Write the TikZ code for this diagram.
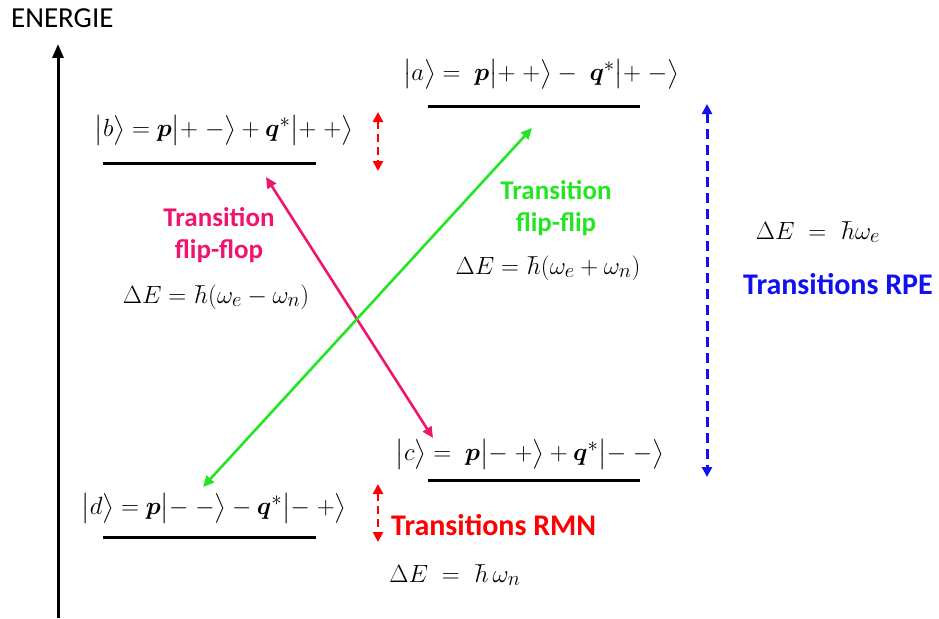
\documentclass[tikz,border=0pt]{standalone}
\usepackage{fontspec}
\setsansfont{Carlito}
\usepackage{amsmath}
\usepackage{bm}
\usetikzlibrary{arrows.meta,positioning}
\definecolor{FlopPink}{HTML}{F0146E}
\definecolor{FlipGreen}{HTML}{22E622}
\definecolor{RmnRed}{HTML}{FF0000}
\definecolor{RpeBlue}{HTML}{1010F0}

\newcommand{\ket}[1]{\bigl|#1\bigr\rangle}

\begin{document}
\begin{tikzpicture}[x=1pt,y=-1pt,
    level/.style={line width=3pt},
    ketlabel/.style={font=\fontsize{29}{33}\selectfont, inner sep=0pt},
    formula/.style={font=\fontsize{29}{33}\selectfont, inner sep=0pt},
    translabel/.style={font=\sffamily\bfseries\fontsize{27}{32}\selectfont, align=center, inner sep=0pt},
    biglabel/.style={font=\sffamily\bfseries\fontsize{30}{34}\selectfont, inner sep=0pt},
    transarrow/.style={line width=2.6pt, {Triangle[length=11pt,width=10pt]}-{Triangle[length=11pt,width=10pt]}},
    gaparrow/.style={line width=3pt, dash pattern=on 10pt off 6pt, {Triangle[length=10pt,width=10pt]}-{Triangle[length=10pt,width=10pt]}}
  ]
  \useasboundingbox (0,0) rectangle (939,618);

  % axe des energies
  \coordinate (axisbot) at (58,618);
  \coordinate (axistop) at (58,44);
  \draw[line width=3pt, -{Triangle[length=14pt,width=11pt]}] (axisbot) -- (axistop);
  \node[font=\sffamily\fontsize{29}{34}\selectfont, anchor=west, inner sep=0pt] (energie) at (11,18) {ENERGIE};

  % niveaux
  \coordinate (bL) at (103,163); \coordinate (bR) at (316,163);
  \coordinate (aL) at (428,106); \coordinate (aR) at (640,106);
  \coordinate (cL) at (428,480); \coordinate (cR) at (640,480);
  \coordinate (dL) at (103,537); \coordinate (dR) at (316,537);
  \draw[level] (bL) -- (bR);
  \draw[level] (aL) -- (aR);
  \draw[level] (cL) -- (cR);
  \draw[level] (dL) -- (dR);

  \node[ketlabel] (ketb) at (224,130) {$\ket{b}=\bm{p}\ket{+\;-}+\bm{q}^{*}\ket{+\;+}$};
  \node[ketlabel] (keta) at (541,74) {$\ket{a}=\;\bm{p}\ket{+\;+}-\;\bm{q}^{*}\ket{+\;-}$};
  \node[ketlabel] (ketc) at (530,454) {$\ket{c}=\;\bm{p}\ket{-\;+}+\bm{q}^{*}\ket{-\;-}$};
  \node[ketlabel] (ketd) at (214,508) {$\ket{d}=\bm{p}\ket{-\;-}-\bm{q}^{*}\ket{-\;+}$};

  % transitions RMN
  \coordinate (rmnAtop) at (378,112); \coordinate (rmnAbot) at (378,171);
  \coordinate (rmnBtop) at (378,484); \coordinate (rmnBbot) at (378,542);
  \draw[gaparrow, RmnRed, line width=2.5pt, dash pattern=on 8pt off 5pt] (rmnAtop) -- (rmnAbot);
  \draw[gaparrow, RmnRed, line width=2.5pt, dash pattern=on 8pt off 5pt] (rmnBtop) -- (rmnBbot);
  \node[biglabel, RmnRed, anchor=west] (rmn) at (391,525) {Transitions RMN};
  \node[formula] (dEn) at (455,575) {$\Delta E\;=\;\hbar\,\omega_{n}$};

  % transitions RPE
  \coordinate (rpetop) at (707,104); \coordinate (rpebot) at (707,477);
  \draw[gaparrow, RpeBlue] (rpetop) -- (rpebot);
  \node[formula] (dEe) at (818,232) {$\Delta E\;=\;\hbar\omega_{e}$};
  \node[biglabel, RpeBlue] (rpe) at (838,284) {Transitions RPE};

  % flip-flop
  \coordinate (flopA) at (266,177); \coordinate (flopB) at (433,438);
  \draw[transarrow, FlopPink] (flopA) -- (flopB);
  \node[translabel, FlopPink] (flop) at (219,235) {Transition\\flip-flop};
  \node[formula] (dEflop) at (216,297) {$\Delta E=\hbar(\omega_{e}-\omega_{n})$};

  % flip-flip
  \coordinate (flipA) at (532,128); \coordinate (flipB) at (203,487);
  \draw[transarrow, FlipGreen] (flipA) -- (flipB);
  \node[translabel, FlipGreen] (flip) at (556,208) {Transition\\flip-flip};
  \node[formula] (dEflip) at (548,268) {$\Delta E=\hbar(\omega_{e}+\omega_{n})$};
\end{tikzpicture}
\end{document}
